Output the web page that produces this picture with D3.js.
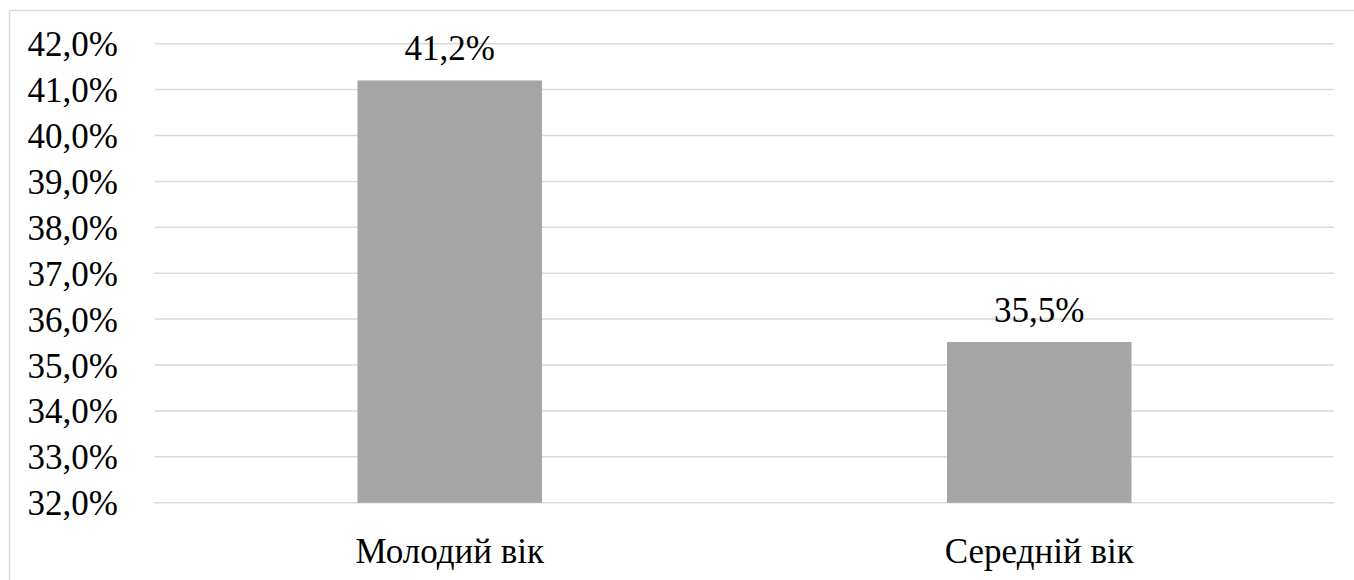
<!DOCTYPE html>
<html><head><meta charset="utf-8">
<script src="https://cdn.jsdelivr.net/npm/d3@7"></script>
</head><body style="margin:0;background:#fff">
<svg id="c" width="1354" height="580"></svg>
<script>
const categories = ["Молодий вік", "Середній вік"];
const values = [41.2, 35.5];
const yTicks = [32, 33, 34, 35, 36, 37, 38, 39, 40, 41, 42];

const svg = d3.select("#c");
const W = 1354, H = 580;
const m = {left:155, right:20, top:43.7, bottom:77.3};
const FONT = '"Liberation Serif"';
const fs = 35;

function serif(sel){
  sel.style("font-family", FONT).style("font-size", fs + "px").attr("fill", "#000");
}

svg.append("rect").attr("x",9.5).attr("y",10.5).attr("width",W+20).attr("height",H+20)
  .attr("fill","#fff").attr("stroke","#d9d9d9").attr("stroke-width",1.5);

const x = d3.scaleBand().domain(categories).range([m.left, W-m.right]).paddingInner(0.687).paddingOuter(0.3435);
const y = d3.scaleLinear().domain([32,42]).range([H-m.bottom, m.top]);

const fmt = v => v.toFixed(1).replace(".", ",") + "%";

svg.append("g").selectAll("line").data(yTicks).join("line")
  .attr("x1", m.left).attr("x2", W-m.right)
  .attr("y1", d=>y(d)).attr("y2", d=>y(d))
  .attr("stroke","#d9d9d9").attr("stroke-width",1.5);

const yAxis = svg.append("g").attr("transform",`translate(${m.left},0)`)
  .call(d3.axisLeft(y).tickValues(yTicks).tickFormat(fmt).tickSize(0).tickPadding(37));
yAxis.select(".domain").remove();
yAxis.attr("font-family", null).attr("font-size", null).attr("text-anchor", null);
yAxis.selectAll("text").call(serif).attr("dy", null)
  .attr("y", 12)
  .attr("x", function(){ return -37 - this.getComputedTextLength(); });

svg.append("g").selectAll("rect").data(values).join("rect")
  .attr("x",(d,i)=>x(categories[i])).attr("width",x.bandwidth())
  .attr("y",d=>y(d)).attr("height",d=>y(32)-y(d))
  .attr("fill","#a5a5a5");

svg.append("g").selectAll("text").data(values).join("text")
  .call(serif)
  .text(fmt)
  .attr("y",d=>y(d)-20)
  .attr("x",function(d,i){ return x(categories[i])+x.bandwidth()/2 - this.getComputedTextLength()/2; });

const xAxis = svg.append("g").attr("transform",`translate(0,${y(32)})`)
  .call(d3.axisBottom(x).tickSize(0).tickPadding(34));
xAxis.select(".domain").remove();
xAxis.attr("font-family", null).attr("font-size", null).attr("text-anchor", null);
xAxis.selectAll("text").call(serif).attr("dy", null)
  .attr("y", 60)
  .attr("x", function(){ return -this.getComputedTextLength()/2; });
</script></body></html>
